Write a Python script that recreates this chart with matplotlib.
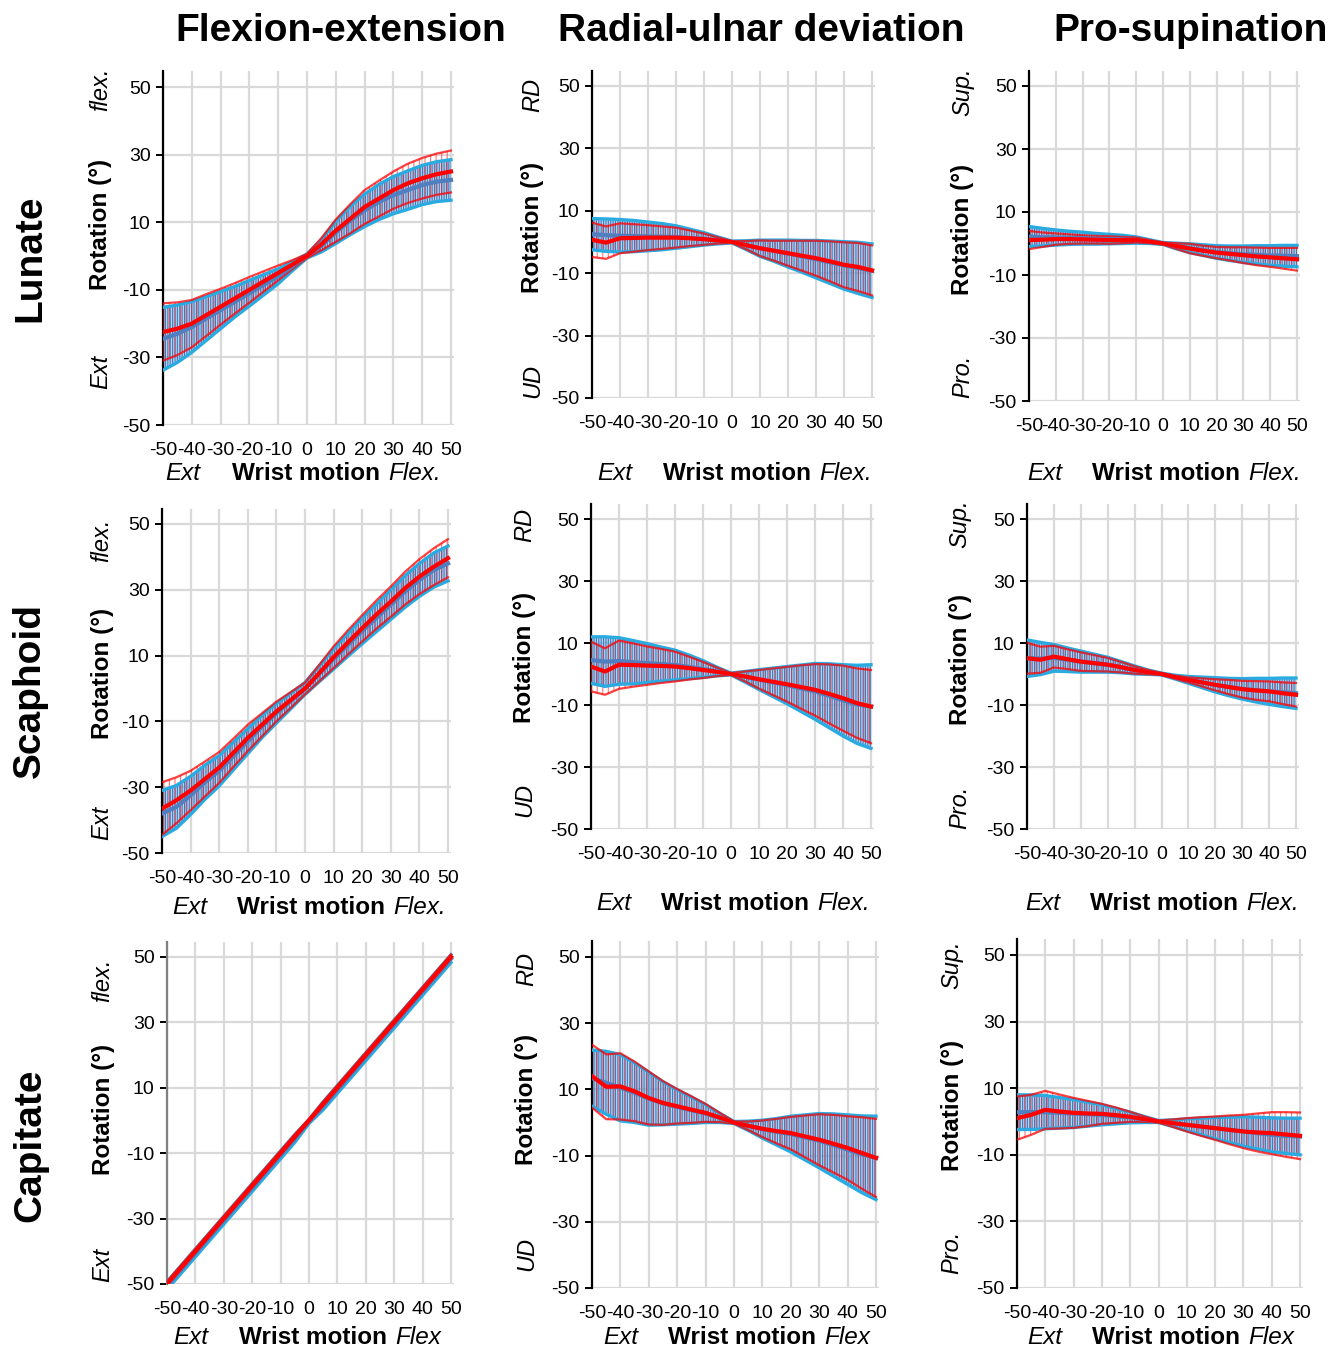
import matplotlib
matplotlib.use('Agg')
import matplotlib.pyplot as plt
import numpy as np

plt.rcParams['font.family'] = ['Liberation Sans', 'DejaVu Sans']
plt.rcParams['axes.unicode_minus'] = False
plt.rcParams['hatch.linewidth'] = 0.8

# wrist angle (deg), sampled every 5 degrees
wrist = [-50, -45, -40, -35, -30, -25, -20, -15, -10, -5, 0,
         5, 10, 15, 20, 25, 30, 35, 40, 45, 50]

bones = ['Lunate', 'Scaphoid', 'Capitate']
motions = ['Flexion-extension', 'Radial-ulnar deviation', 'Pro-supination']
top_words = ['flex.', 'RD', 'Sup.']
bottom_words = ['Ext', 'UD', 'Pro.']

# ---- Lunate ----
lun_fe_red = [-22.5, -21.5, -20, -17.5, -15, -12.5, -10, -7.5, -5, -2.5, 0, 3.5, 7.5, 11, 14.5, 17, 19.5, 21.5, 23, 24.2, 25]
lun_fe_red_sd = [8.5, 7.8, 7, 6.2, 5.3, 4.5, 3.8, 3, 2.2, 1.3, 0.6, 1.8, 3.3, 4.3, 5, 5.3, 5.5, 5.8, 6, 6.1, 6.2]
lun_fe_blue = [-24.5, -23, -21, -18.5, -16, -13.5, -11, -8.5, -6, -3, 0, 3, 7, 10.5, 13.5, 16, 18, 19.5, 21, 22, 22.5]
lun_fe_blue_sd = [9.3, 8.5, 7.5, 6.5, 5.5, 4.5, 3.8, 3, 2.2, 1.3, 0.6, 1.8, 3.3, 4.2, 4.8, 5.2, 5.5, 5.7, 5.8, 5.9, 6]

lun_ru_red = [0.7, -0.2, 1.2, 1.3, 1.4, 1.4, 1.4, 1.2, 0.9, 0.5, 0, -1, -2, -2.8, -3.6, -4.4, -5.2, -6.2, -7.3, -8, -9.1]
lun_ru_red_sd = [5.5, 5.2, 4.8, 4.4, 4, 3.6, 3.2, 2.5, 1.8, 1, 0.3, 1.3, 2.5, 3.2, 4, 4.8, 5.6, 6.4, 7.2, 7.7, 8]
lun_ru_blue = [2.5, 2.2, 2, 1.9, 1.8, 1.7, 1.6, 1.3, 1, 0.5, 0, -1, -2, -2.8, -3.7, -4.6, -5.5, -6.5, -7.5, -8.3, -9.2]
lun_ru_blue_sd = [5, 5.2, 5.2, 5, 4.6, 4.2, 3.6, 2.8, 2, 1.1, 0.3, 1.4, 2.6, 3.4, 4.3, 5.1, 6, 6.8, 7.6, 8.2, 8.6]

lun_ps_red = [1.1, 1.2, 1.4, 1.4, 1.3, 1.2, 1.1, 1.1, 1.1, 0.6, 0, -0.8, -1.6, -2.3, -2.9, -3.3, -3.7, -4.1, -4.4, -4.7, -5]
lun_ps_red_sd = [2.9, 2.3, 1.8, 1.5, 1.3, 1.2, 1.2, 1, 0.8, 0.5, 0.3, 0.9, 1.5, 1.6, 1.8, 2.1, 2.5, 2.8, 3, 3.3, 3.6]
lun_ps_blue = [2.2, 2, 1.9, 1.8, 1.7, 1.5, 1.4, 1.3, 1.1, 0.6, 0, -0.8, -1.5, -2.1, -2.7, -3.1, -3.4, -3.6, -3.8, -3.9, -4]
lun_ps_blue_sd = [3.2, 2.8, 2.4, 2.1, 1.9, 1.7, 1.5, 1.3, 1, 0.6, 0.3, 0.9, 1.4, 1.7, 2, 2.3, 2.6, 2.9, 3.1, 3.3, 3.4]

# ---- Scaphoid ----
sca_fe_red = [-36.5, -34, -31, -27.5, -24, -19.5, -15, -11, -7, -3.5, 0, 4.7, 9.5, 14, 18.3, 22.5, 26.4, 30.5, 34, 37, 39.6]
sca_fe_red_sd = [8, 7, 6, 5.3, 4.7, 4.3, 4, 3.5, 3, 2.4, 1.8, 2.5, 3.3, 3.7, 4, 4.3, 4.6, 5, 5.3, 5.6, 5.8]
sca_fe_blue = [-38, -36, -32.5, -28.5, -25, -20.5, -16, -11.5, -7.5, -3.8, 0, 4.5, 9, 13.3, 17.5, 21.5, 25.5, 29.5, 33, 36, 38]
sca_fe_blue_sd = [7, 6.5, 5.8, 5.2, 4.6, 4.2, 3.8, 3.4, 3, 2.4, 1.8, 2.4, 3.1, 3.5, 3.9, 4.2, 4.5, 4.8, 5, 5.2, 5.3]

sca_ru_red = [2.4, 0.8, 3, 2.9, 2.7, 2.6, 2.4, 1.9, 1.3, 0.7, 0, -0.8, -1.7, -2.5, -3.3, -4.2, -5.1, -6.4, -7.8, -9.4, -10.5]
sca_ru_red_sd = [8, 7.5, 7.8, 7, 6.2, 5.5, 4.8, 3.7, 2.6, 1.4, 0.3, 1.6, 3, 4.3, 5.6, 7, 8.3, 9.5, 10.5, 11.2, 11.8]
sca_ru_blue = [4.5, 4, 4.2, 3.8, 3.5, 3.2, 2.9, 2.3, 1.6, 0.8, 0, -0.9, -1.8, -2.7, -3.6, -4.6, -5.6, -7, -8.5, -9.8, -10.5]
sca_ru_blue_sd = [7.5, 8, 7.5, 7, 6.3, 5.5, 4.8, 3.8, 2.7, 1.4, 0.3, 1.7, 3.2, 4.6, 6, 7.5, 9, 10.3, 11.5, 12.6, 13.5]

sca_ps_red = [5.1, 4.6, 5.6, 4.8, 4, 3.5, 3, 2.2, 1.3, 0.6, 0, -1, -1.9, -2.7, -3.5, -4.2, -4.9, -5.3, -5.6, -6.2, -6.7]
sca_ps_red_sd = [5, 4.2, 3.5, 3.2, 3, 2.6, 2.2, 1.7, 1.2, 0.7, 0.3, 0.5, 0.8, 1.3, 1.8, 2.3, 2.7, 3, 3.2, 3.5, 3.8]
sca_ps_blue = [5.1, 5, 5.2, 4.6, 4, 3.5, 3, 2.2, 1.3, 0.6, 0, -1, -1.9, -2.7, -3.5, -4.2, -4.8, -5.2, -5.6, -5.9, -6.2]
sca_ps_blue_sd = [5.9, 5.2, 4.3, 3.8, 3.4, 2.9, 2.4, 1.8, 1.3, 0.7, 0.3, 0.6, 1.1, 1.7, 2.3, 2.8, 3.3, 3.8, 4.2, 4.6, 4.9]

# ---- Capitate ----
cap_fe_red = [-50, -45, -40, -35, -30, -25, -20, -15, -10, -5, 0, 5, 10, 15, 20, 25, 30, 35, 40, 45, 50]
cap_fe_red_sd = [0.8, 0.8, 0.8, 0.8, 0.8, 0.8, 0.8, 0.8, 0.8, 0.8, 0.5, 0.8, 0.8, 0.8, 0.8, 0.8, 0.8, 0.8, 0.8, 0.8, 0.8]
cap_fe_blue = [-50.5, -45.5, -40.5, -35.5, -30.5, -25.5, -20.5, -15.5, -10.5, -5.5, -0.3, 4.5, 9.5, 14.5, 19.5, 24.5, 29.5, 34.5, 39.5, 44.5, 49.5]
cap_fe_blue_sd = [1.2, 1.2, 1.2, 1.2, 1.2, 1.2, 1.2, 1.2, 1.2, 1.2, 0.6, 1.2, 1.2, 1.2, 1.2, 1.2, 1.2, 1.2, 1.2, 1.2, 1.2]

cap_ru_red = [14, 10.8, 10.9, 9.4, 7.4, 5.9, 4.9, 3.9, 2.9, 1.5, 0, -1, -1.9, -2.6, -3.2, -4.2, -5.2, -6.4, -7.7, -9.2, -10.7]
cap_ru_red_sd = [9.5, 9.8, 10, 9, 8, 6.6, 5.2, 4, 2.7, 1.4, 0.3, 1.3, 2.5, 3.7, 4.9, 6.3, 7.7, 8.7, 9.6, 10.8, 11.8]
cap_ru_blue = [13.4, 12, 10.5, 9, 7.2, 5.8, 4.7, 3.7, 2.7, 1.4, 0, -1, -2, -2.8, -3.5, -4.5, -5.5, -6.8, -8.2, -9.6, -10.7]
cap_ru_blue_sd = [8.5, 9.5, 10, 9, 8, 6.5, 5.2, 4, 2.7, 1.4, 0.3, 1.4, 2.7, 4, 5.4, 6.8, 8.2, 9.4, 10.5, 11.6, 12.6]

cap_ps_red = [1, 2, 3.5, 3, 2.6, 2.4, 2.3, 1.9, 1.4, 0.7, 0, -0.5, -1, -1.5, -2, -2.5, -3, -3.3, -3.5, -3.9, -4.3]
cap_ps_red_sd = [6.5, 6, 5.7, 5.1, 4.5, 3.8, 3, 2.3, 1.5, 0.8, 0.3, 1.1, 2, 2.8, 3.5, 4.3, 5, 5.7, 6.3, 6.7, 7]
cap_ps_blue = [2.8, 2.8, 2.8, 2.6, 2.4, 2.2, 2, 1.6, 1.2, 0.6, 0, -0.5, -1, -1.5, -2, -2.5, -3, -3.5, -4, -4.3, -4.5]
cap_ps_blue_sd = [5.2, 5.2, 5, 4.6, 4.2, 3.6, 3, 2.3, 1.6, 0.9, 0.3, 1, 1.8, 2.5, 3.2, 3.8, 4.4, 4.8, 5.1, 5.3, 5.5]

series = [
    [(lun_fe_blue, lun_fe_blue_sd, lun_fe_red, lun_fe_red_sd),
     (lun_ru_blue, lun_ru_blue_sd, lun_ru_red, lun_ru_red_sd),
     (lun_ps_blue, lun_ps_blue_sd, lun_ps_red, lun_ps_red_sd)],
    [(sca_fe_blue, sca_fe_blue_sd, sca_fe_red, sca_fe_red_sd),
     (sca_ru_blue, sca_ru_blue_sd, sca_ru_red, sca_ru_red_sd),
     (sca_ps_blue, sca_ps_blue_sd, sca_ps_red, sca_ps_red_sd)],
    [(cap_fe_blue, cap_fe_blue_sd, cap_fe_red, cap_fe_red_sd),
     (cap_ru_blue, cap_ru_blue_sd, cap_ru_red, cap_ru_red_sd),
     (cap_ps_blue, cap_ps_blue_sd, cap_ps_red, cap_ps_red_sd)],
]

# ---- layout (pixels in a 1330 x 1351 canvas) ----
W, H = 1330, 1351
# spine x, x=50 pixel, y=50 pixel, y=-50 pixel
boxes = [
    [(163, 451, 87, 425), (592, 872, 86, 398), (1029, 1297, 86, 401)],
    [(162, 448, 524, 853), (591, 871, 519, 829), (1027, 1296, 519, 829)],
    [(167, 451, 957, 1284), (592, 876, 957, 1288), (1017, 1300, 955, 1288)],
]
# side label x, top word y, "Rotation" y, bottom word y
side = [
    [(101, 89, 224, 372), (533, 95, 227, 381), (963, 92, 229, 376)],
    [(102, 540, 673, 823), (525, 525, 657, 800), (960, 524, 659, 807)],
    [(103, 980, 1109, 1265), (527, 969, 1099, 1254), (952, 965, 1105, 1252)],
]
# x label y, "Ext" left, "Wrist motion" left
xlab = [
    [(473, 165, 232), (473, 597, 663), (473, 1027, 1092)],
    [(907, 172, 237), (903, 596, 661), (903, 1025, 1090)],
    [(1338, 173, 239), (1338, 603, 668), (1338, 1027, 1092)],
]
col_x = [341, 761, 1191]
row_y = [258, 691, 1145]

BLUE = '#4f7fc0'
CAP_BLUE = '#29abe2'
RED = '#ff0000'

fig = plt.figure(figsize=(13.3, 13.51), dpi=100)


def ftext(px, py, s, **kw):
    fig.text(px / W, 1 - py / H, s, **kw)


for r in range(3):
    for c in range(3):
        sx, x50, y50, ym50 = boxes[r][c]
        ppx = (x50 - sx) / 100
        ppy = (ym50 - y50) / 100
        ax = fig.add_axes([sx / W, 1 - ym50 / H,
                           (x50 - sx + ppx) / W, (ym50 - y50 + 4.7 * ppy) / H])
        ax.set_xlim(-50, 51)
        ax.set_ylim(-50, 54.7)
        ax.set_xticks(range(-50, 51, 10))
        ax.set_yticks([-50, -30, -10, 10, 30, 50])
        ax.grid(True, color='#d9d9d9', lw=1.6)
        ax.set_axisbelow(True)
        for sp in ['top', 'right', 'bottom']:
            ax.spines[sp].set_visible(False)
        ax.spines['left'].set_linewidth(1.6)
        ax.spines['left'].set_color('#808080' if (r == 2 and c == 0) else 'black')
        ax.tick_params(axis='y', length=5, width=1.4, pad=4, labelsize=14)
        ax.tick_params(axis='x', length=0, pad=12, labelsize=14)

        bm, bs, rm, rs = [np.array(a, dtype=float) for a in series[r][c]]
        x = np.array(wrist)

        ax.fill_between(x, bm - bs, bm + bs, facecolor=(0.45, 0.72, 0.92, 0.55),
                        edgecolor='#4676b8', hatch='|||||||', lw=0, zorder=2)
        ax.fill_between(x, rm - rs, rm + rs, facecolor='none',
                        edgecolor=(1, 0.1, 0.1, 0.6), hatch='|||', lw=0, zorder=3)
        ax.plot(x, bm + bs, color=CAP_BLUE, lw=2.4, zorder=4)
        ax.plot(x, bm - bs, color=CAP_BLUE, lw=2.4, zorder=4)
        ax.plot(x, rm + rs, color=RED, lw=1.6, alpha=0.75, zorder=5)
        ax.plot(x, rm - rs, color=RED, lw=1.6, alpha=0.75, zorder=5)
        ax.plot(x, bm, color=BLUE, lw=3, zorder=6)
        ax.plot(x, rm, color=RED, lw=3, zorder=7)

        # side labels
        lx, ty, my, by = side[r][c]
        ftext(lx, ty, top_words[c], rotation=90, ha='center', va='center',
              fontsize=17, style='italic')
        ftext(lx, my, 'Rotation (°)', rotation=90, ha='center', va='center',
              fontsize=17.5, fontweight='bold')
        ftext(lx, by, bottom_words[c], rotation=90, ha='center', va='center',
              fontsize=17, style='italic')

        # x labels
        yy, ex, wx = xlab[r][c]
        ftext(ex, yy, 'Ext', ha='left', va='center', fontsize=17.5, style='italic')
        ftext(wx, yy, 'Wrist motion', ha='left', va='center', fontsize=17.5,
              fontweight='bold')
        ftext(wx + 156, yy, 'Flex.' if r < 2 else 'Flex', ha='left', va='center',
              fontsize=17.5, style='italic')

for c in range(3):
    ftext(col_x[c], 31, motions[c], ha='center', va='center', fontsize=28,
          fontweight='bold')
for r in range(3):
    ftext(30, row_y[r], bones[r], rotation=90, ha='center', va='center',
          fontsize=28, fontweight='bold')

fig.savefig('out.png', dpi=100)
